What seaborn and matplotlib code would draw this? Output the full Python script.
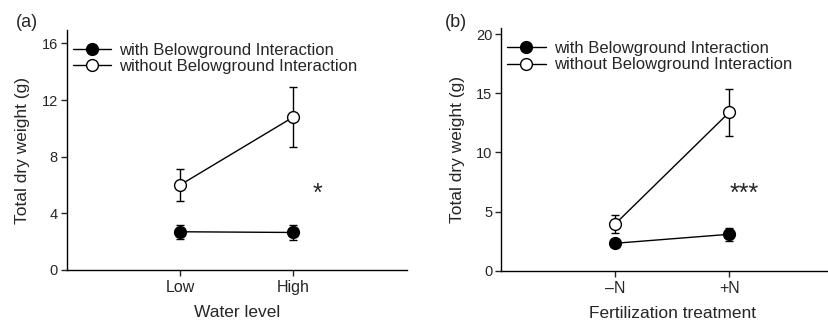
import numpy as np
import pandas as pd
import matplotlib
matplotlib.use('Agg')
import matplotlib.pyplot as plt
import seaborn as sns

# panel (a): water level
water_levels = ["Low", "High"]
water_with = [2.7, 2.65]
water_with_se = [0.5, 0.55]
water_without = [6.0, 10.8]
water_without_se = [1.1, 2.1]

# panel (b): fertilization
fert_levels = ["\u2013N", "+N"]
fert_with = [2.32, 3.08]
fert_with_se = [0.3, 0.55]
fert_without = [3.96, 13.4]
fert_without_se = [0.75, 2.0]

series_labels = ["with Belowground Interaction", "without Belowground Interaction"]

sns.set_style("ticks")
plt.rcParams['font.family'] = ['Liberation Sans', 'DejaVu Sans']

fig = plt.figure(figsize=(8.29, 3.22), dpi=100)
ax_a = fig.add_axes([0.0805, 0.1615, 0.410, 0.745])
ax_b = fig.add_axes([0.6047, 0.1593, 0.4125, 0.7528])


def draw_panel(ax, levels, with_vals, with_se, without_vals, without_se):
    x = np.arange(1, len(levels) + 1)
    for vals, se, face, lab in [(with_vals, with_se, "black", series_labels[0]),
                                (without_vals, without_se, "white", series_labels[1])]:
        ax.errorbar(x, vals, yerr=se, fmt="none", ecolor="black", elinewidth=1,
                    capsize=3, capthick=1, zorder=2)
        df = pd.DataFrame({"x": x, "y": vals})
        sns.lineplot(data=df, x="x", y="y", ax=ax, color="black", linewidth=1,
                     marker="o", markersize=8.5, markerfacecolor=face,
                     markeredgecolor="black", markeredgewidth=1, label=lab, zorder=3)
    ax.set_xticks(x)
    ax.set_xticklabels(levels, fontsize=11.5)
    ax.set_xlim(0, 3)
    ax.tick_params(axis="y", labelsize=10.5, direction="out", length=4, width=1, pad=2.5)
    ax.tick_params(axis="x", direction="out", length=4, width=1)
    sns.despine(ax=ax)
    for s in ["left", "bottom"]:
        ax.spines[s].set_linewidth(1)
        ax.spines[s].set_color("black")
    ax.set_ylabel("Total dry weight (g)", fontsize=12.5, labelpad=8)
    ax.legend(loc="upper left", bbox_to_anchor=(-0.012, 0.99), frameon=False,
              fontsize=12, handlelength=2.3, handletextpad=0.5,
              labelspacing=0.1, borderaxespad=0.4, borderpad=0.2)


draw_panel(ax_a, water_levels, water_with, water_with_se, water_without, water_without_se)
ax_a.set_ylim(0, 16.94)
ax_a.set_yticks([0, 4, 8, 12, 16])
ax_a.set_xlabel("Water level", fontsize=12.5, labelpad=7)
ax_a.text(2.21, 5.4, "*", fontsize=18, ha="center", va="center")
fig.text(0.033, 0.93, "(a)", fontsize=13, ha="center", va="center")

draw_panel(ax_b, fert_levels, fert_with, fert_with_se, fert_without, fert_without_se)
ax_b.set_ylim(0, 20.5)
ax_b.set_yticks([0, 5, 10, 15, 20])
ax_b.set_xlabel("Fertilization treatment", fontsize=12.5, labelpad=7)
ax_b.text(2.13, 6.5, "***", fontsize=18, ha="center", va="center")
fig.text(0.55, 0.93, "(b)", fontsize=13, ha="center", va="center")

fig.savefig("out.png", dpi=100)
